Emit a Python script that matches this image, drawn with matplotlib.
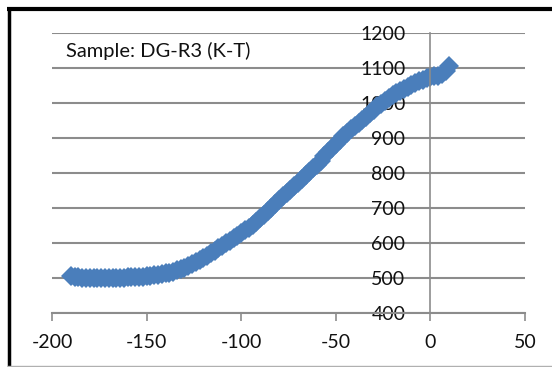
import matplotlib
matplotlib.use("Agg")
import matplotlib.pyplot as plt
from matplotlib.lines import Line2D

temperature = [-190, -188, -186, -184, -182, -180, -178, -176, -174, -172,
               -170, -168, -166, -164, -162, -160, -158, -156, -154, -152,
               -150, -148, -146, -144, -142, -140, -138, -136, -134, -132,
               -130, -128, -126, -124, -122, -120, -118, -116, -114, -112,
               -110, -108, -106, -104, -102, -100, -98, -96, -94, -92,
               -90, -88, -86, -84, -82, -80, -78, -76, -74, -72,
               -70, -68, -66, -64, -62, -60, -58, -56, -54, -52,
               -50, -48, -46, -44, -42, -40, -38, -36, -34, -32,
               -30, -28, -26, -24, -22, -20, -18, -16, -14, -12,
               -10, -8, -6, -4, -2, 0, 2, 4, 6, 8, 10]
value = [506, 503, 502, 501, 500, 500, 500, 500, 500, 500,
         500, 500, 500, 501, 501, 502, 502, 503, 503, 504,
         505, 506, 508, 509, 511, 513, 515, 518, 522, 526,
         530, 535, 540, 546, 552, 558, 564, 571, 578, 585,
         592, 599, 606, 613, 620, 628, 636, 644, 652, 661,
         670, 680, 690, 700, 710, 722, 733, 742, 752, 762,
         772, 783, 793, 804, 814, 824, 835, 848, 860, 872,
         883, 894, 905, 915, 925, 934, 943, 951, 960, 970,
         980, 990, 998, 1007, 1015, 1022, 1028, 1034, 1040, 1045,
         1050, 1056, 1062, 1066, 1070, 1073, 1076, 1078, 1082, 1092, 1105]
x_ticks = [-200, -150, -100, -50, 0, 50]
y_ticks = [400, 500, 600, 700, 800, 900, 1000, 1100, 1200]
label = "Sample: DG-R3 (K-T)"

plt.rcParams['font.family'] = ['Lato', 'DejaVu Sans']
fig = plt.figure(figsize=(5.52, 3.67), dpi=100)
ax = fig.add_axes([52/552, 1-313/367, (525-52)/552, (313-33)/367])

grid_c = '#8c8c8c'
ax.set_xlim(-200, 50)
ax.set_ylim(400, 1200)
ax.set_xticks(x_ticks)
ax.set_yticks(y_ticks)
ax.set_xticklabels([str(t) for t in x_ticks])
ax.set_yticklabels([str(t) for t in y_ticks])
ax.grid(axis='y', color=grid_c, linewidth=1.5)
ax.set_axisbelow(True)
for s in ['top', 'right']:
    ax.spines[s].set_visible(False)
ax.spines['left'].set_position(('data', 0))
ax.spines['left'].set_color(grid_c)
ax.spines['left'].set_linewidth(1.2)
ax.spines['bottom'].set_color(grid_c)
ax.spines['bottom'].set_linewidth(1.5)
ax.tick_params(axis='x', direction='out', length=6, width=1.2, color=grid_c,
               labelsize=14, pad=9, labelcolor='#111111')
ax.tick_params(axis='y', direction='out', length=0, labelsize=14, pad=18,
               labelcolor='#111111')

ax.plot(temperature, value, linestyle='none', marker='D', markersize=10,
        color='#4a7ebb', markeredgewidth=0)

ax.text(0.03, 0.935, label, transform=ax.transAxes, fontsize=14.5,
        va='center', ha='left', color='#111111')

# outer frame
fig.add_artist(Line2D([8.5/552, 8.5/552], [0, 1-9/367], transform=fig.transFigure,
                      color='black', linewidth=2.5, solid_capstyle='butt'))
fig.add_artist(Line2D([7/552, 1], [1-9/367, 1-9/367], transform=fig.transFigure,
                      color='black', linewidth=3, solid_capstyle='butt'))
fig.add_artist(Line2D([8/552, 1], [1.2/367, 1.2/367], transform=fig.transFigure,
                      color='#b0b0b0', linewidth=1))

fig.savefig('out.png', dpi=100)
